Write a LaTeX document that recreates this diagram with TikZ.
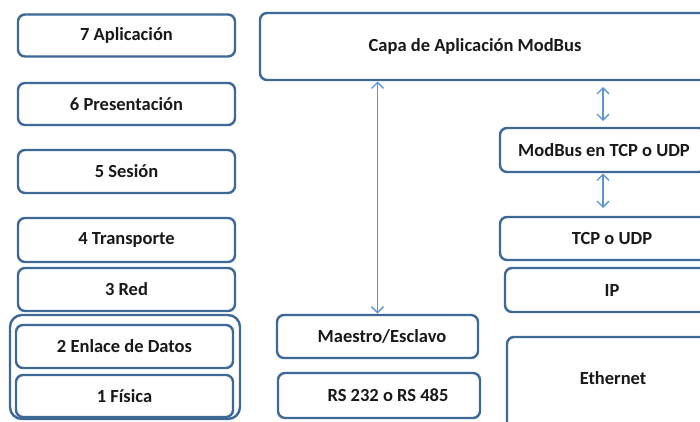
\documentclass[tikz,border=0pt]{standalone}
\usepackage{fontspec}
\setmainfont{Carlito}
\usetikzlibrary{arrows.meta}
\definecolor{boxblue}{RGB}{62,104,150}
\definecolor{arrowblue}{RGB}{91,150,210}
\definecolor{txtcol}{RGB}{25,25,25}
\begin{document}
\begin{tikzpicture}[x=1pt,y=-1pt,
  every node/.append style={font=\bfseries\fontsize{18.5}{21}\selectfont, text=txtcol},
  layer/.style={draw=boxblue, line width=2.4pt, rounded corners=7pt, fill=white,
    inner sep=0pt, outer sep=0pt},
  group/.style={draw=boxblue, line width=2.4pt, rounded corners=12pt,
    inner sep=0pt, outer sep=0pt},
  conn/.style={draw=arrowblue, line width=1.3pt,
    {Straight Barb[length=6pt,width=12pt]}-{Straight Barb[length=6pt,width=12pt]}}]
\useasboundingbox (0,0) rectangle (700,421);
\clip (0,0) rectangle (700,421);
\fill[white] (0,0) rectangle (700,421);
% OSI layers
\node[group, minimum width=230pt, minimum height=104pt] (grp) at (125,367) {};
\node[layer, minimum width=217pt, minimum height=42pt] (l7) at (126.5,35.5) {7 Aplicación};
\node[layer, minimum width=217pt, minimum height=42pt] (l6) at (126.5,104) {6 Presentación};
\node[layer, minimum width=217pt, minimum height=43pt] (l5) at (126.5,171.5) {5 Sesión};
\node[layer, minimum width=217pt, minimum height=44pt] (l4) at (126.5,240) {4 Transporte};
\node[layer, minimum width=217pt, minimum height=43pt] (l3) at (126.5,289.5) {3 Red};
\node[layer, minimum width=217pt, minimum height=43pt] (l2) at (124.5,346.5) {2 Enlace de Datos};
\node[layer, minimum width=217pt, minimum height=42pt] (l1) at (124.5,396) {1 Física};
% ModBus stack
\node[layer, minimum width=460pt, minimum height=67pt,
  label={[xshift=-15pt]center:Capa de Aplicación ModBus}] (capa) at (490,46.5) {};
\node[layer, minimum width=206pt, minimum height=44pt,
  label={[xshift=1pt]center:ModBus en TCP o UDP}] (mtcp) at (603,150) {};
\node[layer, minimum width=224pt, minimum height=43pt] (tcp) at (612,238.5) {TCP o UDP};
\node[layer, minimum width=214pt, minimum height=44pt] (ip) at (612,290) {IP};
\node[layer, minimum width=212pt, minimum height=103pt,
  label={[yshift=10.5pt]center:Ethernet}] (eth) at (613,388.5) {};
\node[layer, minimum width=201pt, minimum height=43pt,
  label={[xshift=4.5pt]center:Maestro/Esclavo}] (maestro) at (377.5,336.5) {};
\node[layer, minimum width=202pt, minimum height=45pt,
  label={[xshift=9pt]center:RS 232 o RS 485}] (rs) at (379,395.5) {};
% connectors
\draw[conn, shorten <=1.5pt, shorten >=1.5pt] (maestro.north) -- (maestro.north |- capa.south);
\draw[conn, shorten <=7pt, shorten >=7pt] (capa.south -| mtcp.north) -- (mtcp.north);
\draw[conn, shorten <=1.5pt, shorten >=9pt] (mtcp.south) -- (tcp.north -| mtcp.south);
\end{tikzpicture}
\end{document}
